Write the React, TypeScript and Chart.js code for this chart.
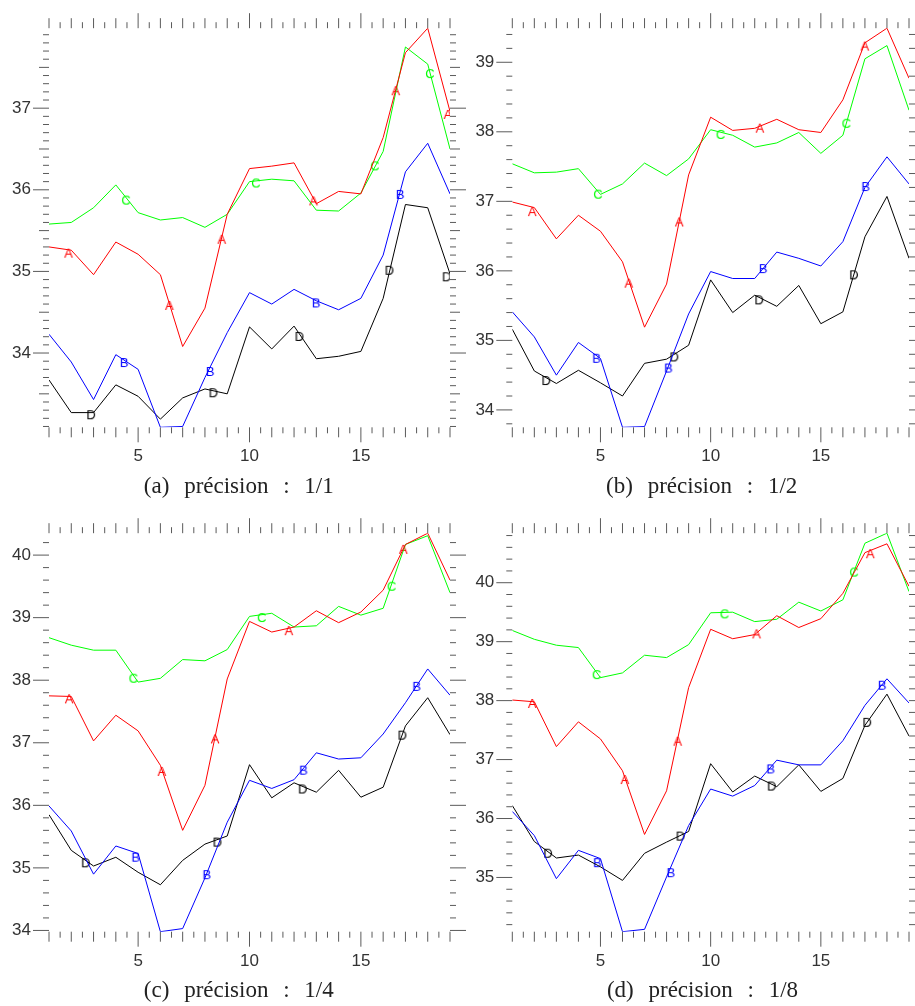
import React, { useEffect, useRef } from 'react';
import { Chart, registerables } from 'chart.js';

Chart.register(...registerables);

// Sample positions along the horizontal axis
const POSITIONS = [1, 2, 3, 4, 5, 6, 7, 8, 9, 10, 11, 12, 13, 14, 15, 16, 17, 18, 19];

// (a) précision : 1/1
const A_1 = [35.30, 35.26, 34.96, 35.36, 35.21, 34.96, 34.08, 34.55, 35.70, 36.26, 36.29, 36.33, 35.83, 35.98, 35.95, 36.64, 37.68, 37.98, 36.96];
const B_1 = [34.23, 33.89, 33.43, 33.98, 33.80, 33.09, 33.10, 33.70, 34.25, 34.74, 34.60, 34.78, 34.64, 34.53, 34.67, 35.20, 36.22, 36.57, 35.95];
const C_1 = [35.58, 35.60, 35.78, 36.06, 35.72, 35.63, 35.66, 35.54, 35.70, 36.10, 36.13, 36.11, 35.75, 35.74, 35.96, 36.47, 37.75, 37.54, 36.50];
const D_1 = [33.67, 33.27, 33.27, 33.61, 33.47, 33.19, 33.45, 33.56, 33.50, 34.32, 34.05, 34.33, 33.93, 33.96, 34.02, 34.67, 35.82, 35.78, 34.97];

// (b) précision : 1/2
const A_2 = [36.99, 36.91, 36.46, 36.80, 36.57, 36.13, 35.19, 35.81, 37.38, 38.21, 38.02, 38.05, 38.18, 38.03, 37.99, 38.46, 39.28, 39.49, 38.77];
const B_2 = [35.41, 35.05, 34.50, 34.97, 34.74, 33.75, 33.76, 34.56, 35.38, 35.99, 35.89, 35.89, 36.27, 36.18, 36.07, 36.42, 37.20, 37.64, 37.25];
const C_2 = [37.54, 37.41, 37.42, 37.47, 37.10, 37.25, 37.55, 37.37, 37.61, 38.03, 37.95, 37.78, 37.84, 37.99, 37.69, 37.95, 39.05, 39.24, 38.31];
const D_2 = [35.16, 34.56, 34.38, 34.57, 34.39, 34.20, 34.67, 34.73, 34.93, 35.87, 35.40, 35.65, 35.49, 35.79, 35.24, 35.41, 36.49, 37.07, 36.18];

// (c) précision : 1/4
const A_4 = [37.75, 37.74, 37.03, 37.44, 37.19, 36.64, 35.60, 36.32, 38.02, 38.94, 38.77, 38.85, 39.11, 38.92, 39.09, 39.44, 40.17, 40.35, 39.60];
const B_4 = [35.99, 35.59, 34.90, 35.35, 35.23, 33.98, 34.03, 34.84, 35.73, 36.40, 36.27, 36.41, 36.84, 36.74, 36.76, 37.14, 37.64, 38.18, 37.76];
const C_4 = [38.68, 38.56, 38.48, 38.48, 37.97, 38.03, 38.33, 38.31, 38.49, 39.02, 39.07, 38.85, 38.87, 39.18, 39.04, 39.15, 40.17, 40.31, 39.40];
const D_4 = [35.85, 35.28, 35.03, 35.17, 34.93, 34.73, 35.12, 35.38, 35.51, 36.65, 36.12, 36.36, 36.21, 36.56, 36.13, 36.29, 37.27, 37.72, 37.13];

// (d) précision : 1/8
const A_8 = [38.01, 37.98, 37.22, 37.64, 37.35, 36.81, 35.73, 36.47, 38.22, 39.21, 39.05, 39.12, 39.44, 39.24, 39.39, 39.82, 40.51, 40.66, 39.94];
const B_8 = [36.12, 35.71, 34.98, 35.46, 35.32, 34.08, 34.12, 35.01, 35.88, 36.50, 36.38, 36.56, 36.99, 36.91, 36.91, 37.32, 37.92, 38.37, 37.96];
const C_8 = [39.19, 39.04, 38.94, 38.90, 38.39, 38.47, 38.77, 38.73, 38.95, 39.49, 39.50, 39.34, 39.38, 39.67, 39.52, 39.71, 40.67, 40.84, 39.85];
const D_8 = [36.22, 35.61, 35.33, 35.38, 35.18, 34.95, 35.41, 35.60, 35.78, 36.93, 36.45, 36.72, 36.54, 36.91, 36.46, 36.68, 37.58, 38.11, 37.40];

// Letter tags placed along each curve: [x, y]
const TAGS_A_1 = [[1.87, 35.23], [6.4, 34.59], [8.75, 35.40], [12.87, 35.87], [16.56, 37.22], [18.9, 36.93]];
const TAGS_B_1 = [[4.37, 33.89], [8.23, 33.78], [12.99, 34.62], [16.76, 35.95]];
const TAGS_C_1 = [[4.46, 35.88], [10.29, 36.09], [15.63, 36.30], [18.1, 37.43]];
const TAGS_D_1 = [[2.89, 33.25], [8.38, 33.52], [12.24, 34.21], [16.28, 35.02], [18.85, 34.94]];

const TAGS_A_2 = [[1.9, 36.86], [6.28, 35.83], [8.57, 36.71], [12.23, 38.06], [16.99, 39.24]];
const TAGS_B_2 = [[4.82, 34.75], [8.08, 34.61], [12.38, 36.04], [17.03, 37.22]];
const TAGS_C_2 = [[4.89, 37.11], [10.45, 37.97], [16.16, 38.13]];
const TAGS_D_2 = [[2.54, 34.43], [8.35, 34.77], [12.2, 35.59], [16.5, 35.95]];

const TAGS_A_4 = [[1.9, 37.71], [6.06, 36.55], [8.45, 37.07], [11.76, 38.80], [16.9, 40.10]];
const TAGS_B_4 = [[4.89, 35.18], [8.08, 34.90], [12.42, 36.57], [17.5, 37.91]];
const TAGS_C_4 = [[4.79, 38.04], [10.55, 39.01], [16.38, 39.51]];
const TAGS_D_4 = [[2.65, 35.09], [8.56, 35.42], [12.39, 36.27], [16.86, 37.13]];

const TAGS_A_8 = [[1.9, 37.96], [6.1, 36.67], [8.5, 37.32], [12.08, 39.14], [17.24, 40.50]];
const TAGS_B_8 = [[4.86, 35.26], [8.19, 35.09], [12.72, 36.85], [17.78, 38.27]];
const TAGS_C_8 = [[4.83, 38.45], [10.63, 39.48], [16.51, 40.19]];
const TAGS_D_8 = [[2.62, 35.42], [8.63, 35.71], [12.77, 36.56], [17.1, 37.64]];

const CAPTIONS = ['(a) précision : 1/1', '(b) précision : 1/2', '(c) précision : 1/4', '(d) précision : 1/8'];

const COLORS = { A: '#ff0000', B: '#0000ff', C: '#00ff00', D: '#000000' };
const AXIS_FONT = '"Liberation Sans", Arial, sans-serif';

type Tag = number[][];
interface PanelSpec {
  left: number;
  top: number;
  width: number;
  height: number;
  axisW: number;
  padTop: number;
  padRight: number;
  axisH: number;
  yStep: number;
  series: { A: number[]; B: number[]; C: number[]; D: number[] };
  tags: { A: Tag; B: Tag; C: Tag; D: Tag };
  caption: string;
  capX: number;
  capY: number;
}

const PANELS: PanelSpec[] = [
  {
    left: 0, top: 0, width: 470, height: 475, axisW: 49, padTop: 26.7, padRight: 20, axisH: 47.7, yStep: 0.1,
    series: { A: A_1, B: B_1, C: C_1, D: D_1 },
    tags: { A: TAGS_A_1, B: TAGS_B_1, C: TAGS_C_1, D: TAGS_D_1 },
    caption: CAPTIONS[0], capX: 238.8, capY: 487.5,
  },
  {
    left: 462, top: 0, width: 453, height: 475, axisW: 50.3, padTop: 26.7, padRight: 2, axisH: 47.7, yStep: 0.2,
    series: { A: A_2, B: B_2, C: C_2, D: D_2 },
    tags: { A: TAGS_A_2, B: TAGS_B_2, C: TAGS_C_2, D: TAGS_D_2 },
    caption: CAPTIONS[1], capX: 701.7, capY: 487.5,
  },
  {
    left: 0, top: 505, width: 470, height: 475, axisW: 49, padTop: 26.7, padRight: 20, axisH: 48.3, yStep: 0.2,
    series: { A: A_4, B: B_4, C: C_4, D: D_4 },
    tags: { A: TAGS_A_4, B: TAGS_B_4, C: TAGS_C_4, D: TAGS_D_4 },
    caption: CAPTIONS[2], capX: 238.8, capY: 991.7,
  },
  {
    left: 462, top: 505, width: 453, height: 475, axisW: 50.3, padTop: 26.7, padRight: 2, axisH: 48.3, yStep: 0.2,
    series: { A: A_8, B: B_8, C: C_8, D: D_8 },
    tags: { A: TAGS_A_8, B: TAGS_B_8, C: TAGS_C_8, D: TAGS_D_8 },
    caption: CAPTIONS[3], capX: 702.5, capY: 991.7,
  },
];

// Small bitmap holding one letter, used as a point style for the curve tags
function letterImage(letter: string, color: string): HTMLCanvasElement {
  const c = document.createElement('canvas');
  c.width = 16;
  c.height = 16;
  const g = c.getContext('2d')!;
  g.font = `13px ${AXIS_FONT}`;
  g.fillStyle = color;
  g.textAlign = 'center';
  g.textBaseline = 'alphabetic';
  g.fillText(letter, 8, 12.7);
  return c;
}

// Outward tick marks on all four sides: minor, intermediate and major lengths
const frameTicks = {
  id: 'frameTicks',
  afterDraw(chart: any, _args: any, opts: any) {
    const { ctx, chartArea: a, scales } = chart;
    const xs = scales.x;
    const ys = scales.y;
    ctx.save();
    ctx.strokeStyle = opts.color || '#555';
    ctx.lineWidth = 1;
    ctx.beginPath();
    const xStep = 0.5;
    for (let k = Math.ceil(xs.min / xStep - 1e-6); k <= Math.floor(xs.max / xStep + 1e-6); k++) {
      const len = k % 10 === 0 ? 15 : k % 2 === 0 ? 10 : 6;
      const px = xs.getPixelForValue(k * xStep);
      ctx.moveTo(px, a.bottom);
      ctx.lineTo(px, a.bottom + len);
      ctx.moveTo(px, a.top);
      ctx.lineTo(px, a.top - len);
    }
    const yStep = opts.yStep;
    const per = Math.round(1 / yStep);
    for (let k = Math.ceil(ys.min / yStep - 1e-6); k <= Math.floor(ys.max / yStep + 1e-6); k++) {
      const len = k % per === 0 ? 16 : per === 10 && k % 5 === 0 ? 10 : 6;
      const py = ys.getPixelForValue(k * yStep);
      ctx.moveTo(a.left, py);
      ctx.lineTo(a.left - len, py);
      ctx.moveTo(a.right, py);
      ctx.lineTo(a.right + len, py);
    }
    ctx.stroke();
    ctx.restore();
  },
};

function Panel({ spec }: { spec: PanelSpec }) {
  const ref = useRef<HTMLCanvasElement>(null);

  useEffect(() => {
    const keys: ('A' | 'B' | 'C' | 'D')[] = ['A', 'B', 'C', 'D'];
    const all = keys.flatMap((k) => spec.series[k]);
    const yMin = Math.min(...all);
    const yMax = Math.max(...all);

    const lines = keys.map((k) => ({
      label: k,
      data: POSITIONS.map((x, i) => ({ x, y: spec.series[k][i] })),
      borderColor: COLORS[k],
      backgroundColor: COLORS[k],
      borderWidth: 1,
      pointRadius: 0,
      tension: 0,
      fill: false,
    }));
    const tags = keys.map((k) => ({
      label: `tag-${k}`,
      data: spec.tags[k].map(([x, y]) => ({ x, y })),
      showLine: false,
      pointStyle: letterImage(k, COLORS[k]),
      pointRadius: 6,
      borderWidth: 0,
      clip: 0,
    }));

    const chart = new Chart(ref.current!, {
      type: 'line',
      data: { datasets: [...lines, ...tags] as any },
      options: {
        animation: false,
        responsive: false,
        devicePixelRatio: 1,
        events: [],
        layout: { padding: { top: spec.padTop, right: spec.padRight, left: 0, bottom: 0 } },
        plugins: {
          legend: { display: false },
          tooltip: { enabled: false },
          frameTicks: { yStep: spec.yStep, color: '#5a5a5a' },
        } as any,
        scales: {
          x: {
            type: 'linear',
            min: 1,
            max: 19,
            grid: { display: false, drawTicks: false },
            border: { display: false },
            afterBuildTicks: (s: any) => {
              s.ticks = [5, 10, 15].map((value) => ({ value }));
            },
            afterFit: (s: any) => {
              s.height = spec.axisH;
            },
            ticks: {
              autoSkip: false,
              maxRotation: 0,
              padding: 19,
              color: '#333',
              font: { family: AXIS_FONT, size: 17 },
            },
          },
          y: {
            type: 'linear',
            min: yMin,
            max: yMax,
            grid: { display: false, drawTicks: false },
            border: { display: false },
            afterBuildTicks: (s: any) => {
              const t = [];
              for (let v = Math.ceil(yMin); v <= Math.floor(yMax); v++) t.push({ value: v });
              s.ticks = t;
            },
            afterFit: (s: any) => {
              s.width = spec.axisW;
            },
            ticks: {
              autoSkip: false,
              padding: 18,
              color: '#333',
              font: { family: AXIS_FONT, size: 17 },
            },
          },
        },
      },
      plugins: [frameTicks],
    });
    return () => chart.destroy();
  }, [spec]);

  return (
    <>
      <canvas
        ref={ref}
        width={spec.width}
        height={spec.height}
        style={{ position: 'absolute', left: spec.left, top: spec.top, width: spec.width, height: spec.height }}
      />
      <div
        style={{
          position: 'absolute',
          left: spec.capX - 160,
          width: 320,
          top: spec.capY - 14.5,
          height: 26,
          lineHeight: '26px',
          textAlign: 'center',
          fontFamily: '"Liberation Serif", "Times New Roman", serif',
          fontSize: 23,
          wordSpacing: 9,
          whiteSpace: 'pre',
          color: '#222',
        }}
      >
        {spec.caption}
      </div>
    </>
  );
}

export default function App() {
  return (
    <div
      style={{
        position: 'absolute',
        left: 0,
        top: 0,
        width: 915,
        height: 1006,
        overflow: 'hidden',
        background: '#fff',
      }}
    >
      {PANELS.map((p, i) => (
        <Panel key={i} spec={p} />
      ))}
    </div>
  );
}
